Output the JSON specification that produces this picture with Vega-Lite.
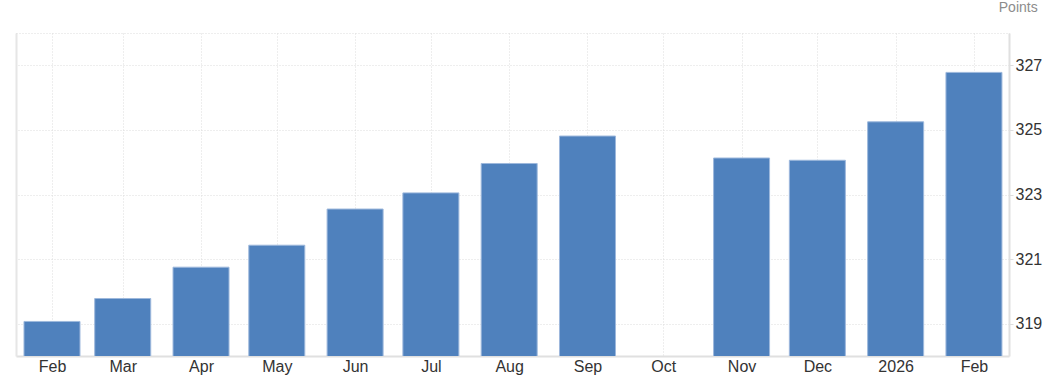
{
  "$schema": "https://vega.github.io/schema/vega-lite/v6.json",
  "width": 993,
  "height": 323,
  "autosize": {"type": "none"},
  "padding": {"left": 16, "top": 33, "right": 42, "bottom": 24},
  "background": "white",
  "config": {
    "font": "Liberation Sans",
    "view": {"stroke": "#dddddd", "strokeDash": [1, 2], "strokeWidth": 1}
  },
  "title": {
    "text": "Points",
    "anchor": "end",
    "frame": "bounds",
    "orient": "top",
    "offset": 18,
    "dx": -4,
    "fontSize": 14,
    "fontWeight": "normal",
    "color": "#8c8c8c",
    "font": "Liberation Sans"
  },
  "data": {
    "values": [
      {"date": "2025-02-01T00:00:00", "value": 319.07},
      {"date": "2025-03-01T00:00:00", "value": 319.78},
      {"date": "2025-04-01T00:00:00", "value": 320.75},
      {"date": "2025-05-01T00:00:00", "value": 321.43},
      {"date": "2025-06-01T00:00:00", "value": 322.55},
      {"date": "2025-07-01T00:00:00", "value": 323.05},
      {"date": "2025-08-01T00:00:00", "value": 323.96},
      {"date": "2025-09-01T00:00:00", "value": 324.81},
      {"date": "2025-10-01T00:00:00", "value": null},
      {"date": "2025-11-01T00:00:00", "value": 324.13},
      {"date": "2025-12-01T00:00:00", "value": 324.06},
      {"date": "2026-01-01T00:00:00", "value": 325.25},
      {"date": "2026-02-01T00:00:00", "value": 326.78}
    ]
  },
  "resolve": {"axis": {"y": "independent"}},
  "layer": [
    {
      "mark": {"type": "bar", "color": "#4f81bd", "stroke": "#9db8dc", "strokeWidth": 1, "size": 56, "clip": true},
      "encoding": {
        "x": {
          "field": "date",
          "type": "temporal",
          "scale": {
            "padding": 0,
            "nice": false,
            "domain": [
              {"year": 2025, "month": 1, "date": 17, "hours": 18},
              {"year": 2026, "month": 2, "date": 14, "hours": 21}
            ]
          },
          "axis": {
            "title": null,
            "values": [
              {"year": 2025, "month": 2, "date": 1},
              {"year": 2025, "month": 3, "date": 1},
              {"year": 2025, "month": 4, "date": 1},
              {"year": 2025, "month": 5, "date": 1},
              {"year": 2025, "month": 6, "date": 1},
              {"year": 2025, "month": 7, "date": 1},
              {"year": 2025, "month": 8, "date": 1},
              {"year": 2025, "month": 9, "date": 1},
              {"year": 2025, "month": 10, "date": 1},
              {"year": 2025, "month": 11, "date": 1},
              {"year": 2025, "month": 12, "date": 1},
              {"year": 2026, "month": 1, "date": 1},
              {"year": 2026, "month": 2, "date": 1}
            ],
            "labelAngle": 0,
            "labelExpr": "month(datum.value) == 0 ? timeFormat(datum.value, '%Y') : timeFormat(datum.value, '%b')",
            "labelFlush": false,
            "labelOverlap": false,
            "labelFontSize": 16,
            "labelColor": "#333333",
            "labelPadding": 2,
            "ticks": false,
            "domain": true,
            "domainColor": "#e0e0e0",
            "domainWidth": 2,
            "grid": true,
            "gridColor": "#dddddd",
            "gridDash": [1, 2]
          }
        },
        "y": {
          "field": "value",
          "type": "quantitative",
          "scale": {"domain": [318, 328], "zero": false, "nice": false},
          "axis": {
            "title": null,
            "orient": "right",
            "values": [319, 321, 323, 325, 327],
            "labelFontSize": 16,
            "labelColor": "#333333",
            "labelPadding": 2,
            "tickSize": 4,
            "tickColor": "#dddddd",
            "domainColor": "#e0e0e0",
            "domainWidth": 2,
            "grid": true,
            "gridColor": "#dddddd",
            "gridDash": [1, 2]
          }
        }
      }
    },
    {
      "mark": {"type": "bar", "opacity": 0, "size": 56, "clip": true},
      "encoding": {
        "x": {"field": "date", "type": "temporal"},
        "y": {
          "field": "value",
          "type": "quantitative",
          "axis": {
            "orient": "left",
            "title": null,
            "labels": false,
            "ticks": false,
            "grid": false,
            "domain": true,
            "domainColor": "#e6e6e6",
            "domainWidth": 2
          }
        }
      }
    }
  ]
}
